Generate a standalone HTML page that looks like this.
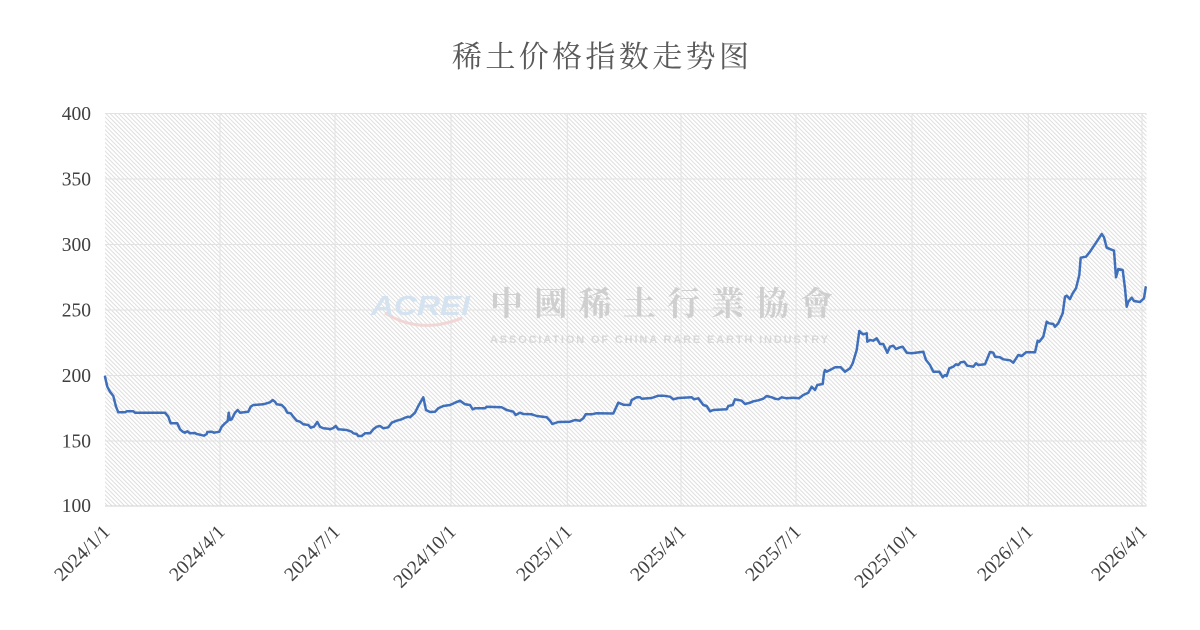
<!DOCTYPE html>
<html>
<head>
<meta charset="utf-8">
<style>
  html, body { margin: 0; padding: 0; background: #ffffff; }
  svg { display: block; }
</style>
</head>
<body>
<svg width="1200" height="630" viewBox="0 0 1200 630" xmlns="http://www.w3.org/2000/svg">
  <defs>
    <pattern id="hatch" width="3" height="3" patternUnits="userSpaceOnUse" patternTransform="rotate(-45)">
      <rect width="3" height="3" fill="#ffffff"/>
      <line x1="0.5" y1="0" x2="0.5" y2="3" stroke="#dedede" stroke-width="1"/>
    </pattern>
  </defs>

  <rect width="1200" height="630" fill="#ffffff"/>

  <!-- Title -->
  <text x="452" y="67" font-family="'Noto Serif CJK SC', 'Noto Sans CJK SC', serif" font-size="30" fill="#595959" textLength="297" lengthAdjust="spacing">稀土价格指数走势图</text>

  <!-- Plot area -->
  <rect x="105" y="113" width="1041.5" height="393" fill="url(#hatch)"/>

  <!-- Horizontal gridlines -->
  <g stroke="#e2e2e2" stroke-width="1">
    <line x1="105" y1="113.5" x2="1146.5" y2="113.5"/>
    <line x1="105" y1="179" x2="1146.5" y2="179"/>
    <line x1="105" y1="244.5" x2="1146.5" y2="244.5"/>
    <line x1="105" y1="310" x2="1146.5" y2="310"/>
    <line x1="105" y1="375.5" x2="1146.5" y2="375.5"/>
    <line x1="105" y1="441" x2="1146.5" y2="441"/>
  </g>
  <!-- Vertical gridlines -->
  <g stroke="#e2e2e2" stroke-width="1">
    <line x1="220" y1="113" x2="220" y2="506"/>
    <line x1="335" y1="113" x2="335" y2="506"/>
    <line x1="451" y1="113" x2="451" y2="506"/>
    <line x1="567.3" y1="113" x2="567.3" y2="506"/>
    <line x1="681" y1="113" x2="681" y2="506"/>
    <line x1="796" y1="113" x2="796" y2="506"/>
    <line x1="912" y1="113" x2="912" y2="506"/>
    <line x1="1028.3" y1="113" x2="1028.3" y2="506"/>
    <line x1="1142" y1="113" x2="1142" y2="506"/>
  </g>
  <!-- x axis line -->
  <line x1="105" y1="506" x2="1146.5" y2="506" stroke="#d9d9d9" stroke-width="1.2"/>

  <!-- Watermark -->
  <g>
    <path d="M385,313 Q420,335 462,318" fill="none" stroke="#f1d3d3" stroke-width="3" opacity="0.9"/>
    <text x="371" y="315" font-family="'Liberation Sans', sans-serif" font-weight="bold" font-style="italic" font-size="28" fill="#d5e3f1" textLength="99" lengthAdjust="spacingAndGlyphs">ACREI</text>
    <text x="490" y="315" font-family="'Noto Serif CJK TC', 'Noto Sans CJK TC', serif" font-weight="bold" font-size="33" fill="#cfcfcf" textLength="343" lengthAdjust="spacing">中國稀土行業協會</text>
    <text x="490" y="343" font-family="'Liberation Sans', sans-serif" font-weight="bold" font-size="11" fill="#d8d8d8" textLength="338" lengthAdjust="spacing">ASSOCIATION OF CHINA RARE EARTH INDUSTRY</text>
  </g>

  <!-- Data line -->
  <polyline fill="none" stroke="#3f6fba" stroke-width="2.5" stroke-linejoin="round" stroke-linecap="round"
    points="105,376.7 107.3,386.7 110,391.7 113.3,396 116,406.7 118.3,412.3 125,412.3 126.7,411.3 133.3,411.3 135,412.7 165,412.7 168.3,416.7 170.7,423.3 177.3,423.3 180,429.3 182.7,431.7 185,432.7 187.3,431.3 190,433.3 195,433 196.7,434 200,434.7 204,435.7 206.7,434 207.3,432 211.7,431.7 214,432.7 219.3,431.7 221.7,426.7 225,423.3 227.7,421 228.7,412.7 230,420 231.7,419.3 235,412.7 237.7,410 240,412.7 248.3,411.7 250.7,406.7 253.3,405 263.3,404.3 266.7,403.3 270,402.3 272.7,400 275,401.7 276.7,404.3 281.7,405 285,408.3 287.3,412.7 290.7,413.3 293.3,416.7 296.7,420.7 300,421.7 303.3,424.3 308.3,425 310.7,427.7 314,426.7 317.3,422 320,426.7 323.3,428.3 328.3,428.7 330,429.3 333.3,428 335.7,426 338.3,429.3 346.7,430 351.7,431.7 353.3,433.3 356.7,434 358.3,436 361.7,436 365,433.3 370,433.3 373.3,429.3 376.7,426.7 380,426 383.3,428.3 388.3,427.3 391.7,422.7 396.7,420.7 401.7,419.3 405,417.7 408.3,416.7 410,417.3 415,412.7 418.3,406 423.3,397.3 426,410 430,412 435,411.7 438.3,408.3 443.3,406 450,405 455,402.7 460,400.7 465,404.3 470,405 472.7,409.3 475,408.3 485,408.3 486.7,406.7 501.7,407.3 506.7,410 513.3,411.7 515.7,415 520,412.7 523.3,414 531.7,414.3 536.7,416 546.7,417.3 550,420.7 552.3,424 558.3,422 570,421.7 575,420 580,420.7 583.3,418.3 585.7,414.3 591.7,414.3 596,413.3 613.3,413.5 618.3,402.7 623.3,404.7 630,405 631.7,400 636.7,397.3 640,397.3 641.7,398.7 651.7,398 658.3,395.7 663.3,395.7 670,396.7 673.3,399.3 678.3,398 691.7,397.3 694,399.3 698.3,398.3 703.3,405 706.7,406 710,411.3 713.3,410 726.7,409.3 728.3,406 732.7,405 735,399.3 741.7,400.7 745,404 750,402.7 753.3,401.3 758.3,400.3 763.3,398.7 766.7,396 771.7,397.3 775,398.7 778.3,399.3 781.7,397.3 786.7,398.3 793.3,397.7 799,398.3 803.3,395 808.3,392.7 811.7,386.7 815,390 817.3,385 822.7,384 824,373.3 825,370 826.7,371.7 830,370 835,367.3 840.7,367.3 845,371.7 850,368.3 852.7,363.3 856.7,350 859.3,331 861.7,333.3 863.3,334.3 866.7,333.3 867.3,341.7 870,340 873.3,340.7 876.7,338.3 880,344 883.3,344 887.3,352.7 890,346.7 893.3,345.7 896,349 900,347.3 902.7,346.7 906.7,352.7 911.7,353.3 923.3,351.7 926,360 930,365 933.3,371.7 939.3,371.7 942.7,377.3 945,375 946.7,376 949.3,368.3 953.3,366.7 956,364.3 958.3,365 960.7,362.3 964.3,361.7 967.3,365.7 973.3,366.7 976,363.3 978.3,365 985,364.3 990,352 993.3,352.7 995,356.7 1000,357.3 1003.3,359.3 1010,360.3 1013.3,362.7 1018.3,355 1021.7,356 1026,352.3 1035,352.3 1037.7,340.7 1039.3,341.7 1043.3,336.7 1046.7,321.7 1049,323.3 1053.3,324 1055,326.7 1058.3,323.3 1062.7,313.3 1065,296.7 1066.7,295.7 1070,299 1072.7,293.3 1076,288.3 1079.3,275 1080.7,257.7 1086,256.7 1090,251.7 1096.7,241.7 1101.7,234 1104,237.3 1106.7,247.7 1114,250.7 1116,277.3 1118.3,269 1122.7,270 1125,288.3 1126.7,306.7 1128.3,301.7 1131.7,297.7 1134,301 1140,302 1144,298.3 1145.7,287.3"/>

  <!-- Y axis labels -->
  <g font-family="'Liberation Serif', serif" font-size="19.5" fill="#404040" text-anchor="end">
    <text x="91" y="120">400</text>
    <text x="91" y="185.5">350</text>
    <text x="91" y="251">300</text>
    <text x="91" y="316.5">250</text>
    <text x="91" y="382">200</text>
    <text x="91" y="447.5">150</text>
    <text x="91" y="512">100</text>
  </g>

  <!-- X axis labels -->
  <g font-family="'Liberation Serif', serif" font-size="19.5" fill="#404040" text-anchor="end">
    <text transform="translate(111,533) rotate(-45)">2024/1/1</text>
    <text transform="translate(226,533) rotate(-45)">2024/4/1</text>
    <text transform="translate(341,533) rotate(-45)">2024/7/1</text>
    <text transform="translate(457,533) rotate(-45)">2024/10/1</text>
    <text transform="translate(573,533) rotate(-45)">2025/1/1</text>
    <text transform="translate(687,533) rotate(-45)">2025/4/1</text>
    <text transform="translate(802,533) rotate(-45)">2025/7/1</text>
    <text transform="translate(918,533) rotate(-45)">2025/10/1</text>
    <text transform="translate(1034,533) rotate(-45)">2026/1/1</text>
    <text transform="translate(1148,533) rotate(-45)">2026/4/1</text>
  </g>
</svg>
</body>
</html>
